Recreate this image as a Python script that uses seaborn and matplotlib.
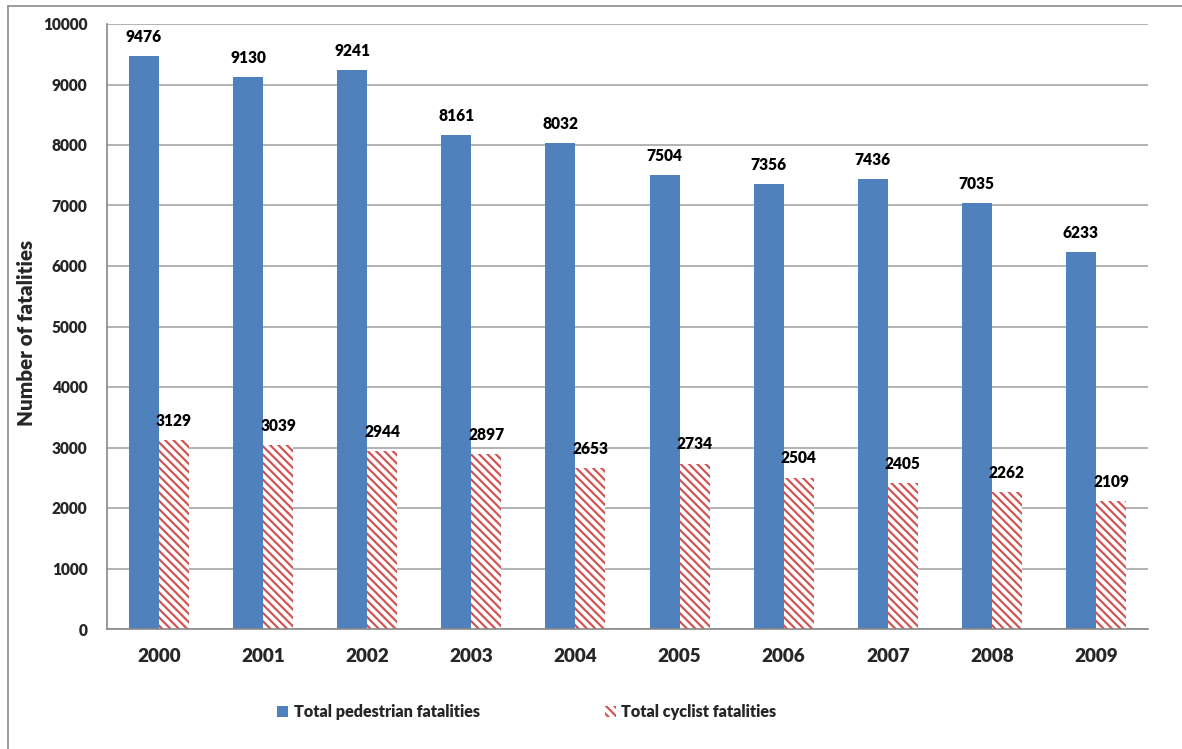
import matplotlib
matplotlib.use("Agg")
import matplotlib.pyplot as plt
from matplotlib.lines import Line2D
from matplotlib.patches import Patch
import seaborn as sns
import pandas as pd

years = ["2000", "2001", "2002", "2003", "2004", "2005", "2006", "2007", "2008", "2009"]
pedestrian = [9476, 9130, 9241, 8161, 8032, 7504, 7356, 7436, 7035, 6233]
cyclist = [3129, 3039, 2944, 2897, 2653, 2734, 2504, 2405, 2262, 2109]
series_names = ["Total pedestrian fatalities", "Total cyclist fatalities"]
y_ticks = [0, 1000, 2000, 3000, 4000, 5000, 6000, 7000, 8000, 9000, 10000]

BLUE = "#4F81BD"
RED = "#D05656"
GRID = "#A6A6A6"
W = "heavy"

df = pd.DataFrame({
    "year": years * 2,
    "value": pedestrian + cyclist,
    "series": [series_names[0]] * len(years) + [series_names[1]] * len(years),
})

sns.set_style("white")
plt.rcParams["font.family"] = ["Lato", "DejaVu Sans"]
plt.rcParams["font.weight"] = W
plt.rcParams["hatch.linewidth"] = 1.6

fig = plt.figure(figsize=(11.82, 7.49), dpi=100)
ax = fig.add_axes([107 / 1182, 1 - 629 / 749, (1148 - 107) / 1182, (629 - 24) / 749])

sns.barplot(
    data=df, x="year", y="value", hue="series", order=years, hue_order=series_names,
    palette=[BLUE, "white"], width=0.576, gap=0, saturation=1, ax=ax, legend=False,
)

ped_bars, cyc_bars = ax.containers[0], ax.containers[1]
for p in ped_bars:
    p.set_edgecolor(BLUE)
    p.set_linewidth(0)
for p in cyc_bars:
    p.set_facecolor("white")
    p.set_edgecolor(RED)
    p.set_linewidth(0)
    p.set_hatch("\\\\\\\\")

ax.bar_label(ped_bars, labels=[str(v) for v in pedestrian], padding=8,
             fontsize=11.2, fontweight=W, color="black")
ax.bar_label(cyc_bars, labels=[str(v) for v in cyclist], padding=8,
             fontsize=11.2, fontweight=W, color="black")

ax.set_ylim(0, 10000)
ax.set_xlim(-0.5, len(years) - 0.5)
ax.set_yticks(y_ticks)
ax.set_yticklabels([str(t) for t in y_ticks], fontsize=11.2, fontweight=W)
ax.yaxis.grid(True, color=GRID, linewidth=1.2)
ax.set_axisbelow(True)

ax.set_xticks(range(len(years)))
ax.set_xticklabels(years, fontsize=13.6, fontweight=W)
ax.set_xticks([i - 0.5 for i in range(len(years) + 1)], minor=True)
ax.tick_params(axis="x", which="major", length=0, pad=14)
ax.tick_params(axis="x", which="minor", length=6, width=1.2, color="#888888", direction="out")
ax.tick_params(axis="y", length=6, width=1.2, color="#888888", direction="out", pad=8)

ax.set_xlabel("")
ax.set_ylabel("Number of fatalities", fontsize=14.8, fontweight=W)
ax.yaxis.set_label_coords((36 - 107) / 1041, 0.49)

for side in ["top", "right"]:
    ax.spines[side].set_visible(False)
for side in ["left", "bottom"]:
    ax.spines[side].set_color("#888888")
    ax.spines[side].set_linewidth(1.2)

handles = [
    Patch(facecolor=BLUE, edgecolor=BLUE, linewidth=0),
    Patch(facecolor="white", edgecolor=RED, hatch="\\\\\\\\", linewidth=0),
]
leg = fig.legend(handles, series_names, loc="center", ncol=2, frameon=False,
                 bbox_to_anchor=(527 / 1182, 1 - 712 / 749), columnspacing=7.8,
                 handlelength=0.65, handleheight=0.65, handletextpad=0.35,
                 prop={"size": 11.6, "weight": W})

# outer chart-area frame
fig.add_artist(Line2D([8 / 1182, 8 / 1182], [0, 1 - 6 / 749], color="#8C8C8C", linewidth=1.2))
fig.add_artist(Line2D([8 / 1182, 1], [1 - 6 / 749, 1 - 6 / 749], color="#8C8C8C", linewidth=1.2))

fig.savefig("out.png", dpi=100)
